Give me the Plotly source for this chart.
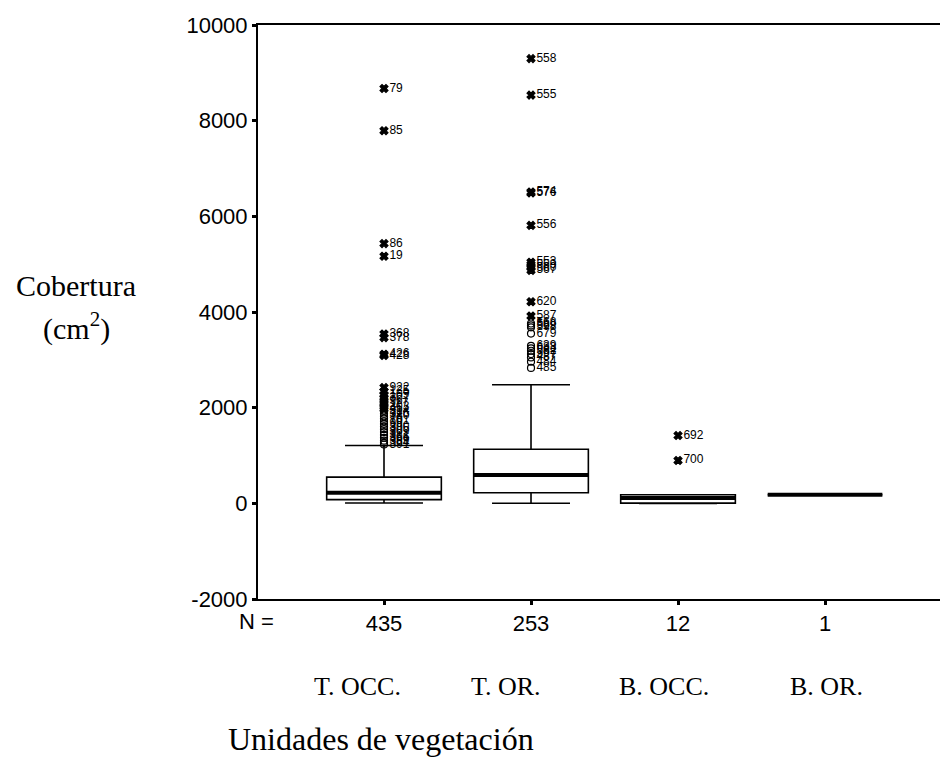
import plotly.graph_objects as go

# ---------------- data ----------------
groups = ["T. OCC.", "T. OR.", "B. OCC.", "B. OR."]
n_counts = ["435", "253", "12", "1"]
positions = [1, 2, 3, 4]

q1 = [77, 222, 5, 181]
median = [222, 590, 110, 181]
q3 = [548, 1132, 181, 181]
lower_whisker = [6, 3, 0, 181]
upper_whisker = [1208, 2479, 181, 181]

# outliers (value, case label) per group
out1_vals = [8672, 7790, 5430, 5166, 3540, 3465, 3118, 3090,
             2420, 2340, 2270, 2200, 2140, 2080, 2020, 1975,
             1930, 1875, 1820, 1770, 1715, 1660, 1605, 1550,
             1490, 1430, 1370, 1310, 1265, 1230]
out1_ids = ["79", "85", "86", "19", "368", "378", "426", "428",
            "922", "125", "109", "307", "96", "117", "303", "45",
            "314", "326", "380", "76", "101", "99", "390", "305",
            "309", "381", "366", "399", "364", "391"]

out2_vals = [9297, 8534, 6510, 6490, 5811, 5040, 4990, 4930, 4870,
             4214, 3916, 3760, 3720, 3680, 3548,
             3290, 3240, 3190, 3120, 3050, 2960, 2830]
out2_ids = ["558", "555", "574", "576", "556", "553", "559", "560", "567",
            "620", "587", "568", "589", "598", "679",
            "639", "683", "582", "597", "487", "484", "485"]

out3_vals = [1417, 896]
out3_ids = ["692", "700"]

out4_vals = []
out4_ids = []

outlier_vals = [out1_vals, out2_vals, out3_vals, out4_vals]
outlier_ids = [out1_ids, out2_ids, out3_ids, out4_ids]

y_tick_vals = [-2000, 0, 2000, 4000, 6000, 8000, 10000]
y_tick_labels = ["-2000", "0", "2000", "4000", "6000", "8000", "10000"]

# ---------------- layout geometry ----------------
W, H = 940, 758
ML, MR, MT, MB = 258, 0, 25, 159
PW, PH = W - ML - MR, H - MT - MB
BOX_W = 0.78


def px(xp):
    return (xp - ML) / PW


def py(yp):
    return (H - MB - yp) / PH


fig = go.Figure()

for i, p in enumerate(positions):
    fig.add_trace(go.Box(
        x=[p], q1=[q1[i]], median=[median[i]], q3=[q3[i]],
        lowerfence=[lower_whisker[i]], upperfence=[upper_whisker[i]],
        width=BOX_W, whiskerwidth=0.68, fillcolor="white",
        line=dict(color="black", width=1.6), boxpoints=False,
        hoverinfo="skip"))

# thick median lines
mx, my = [], []
for i, p in enumerate(positions):
    mx += [p - BOX_W / 2, p + BOX_W / 2, None]
    my += [median[i], median[i], None]
fig.add_trace(go.Scatter(x=mx, y=my, mode="lines",
                         line=dict(color="black", width=4), hoverinfo="skip"))

# outliers: circles for outliers, x for extremes (> Q3 + 3 IQR)
for i, p in enumerate(positions):
    vals = outlier_vals[i]
    if not vals:
        continue
    iqr = q3[i] - q1[i]
    symbols = ["x" if v > q3[i] + 3 * iqr else "circle-open" for v in vals]
    fig.add_trace(go.Scatter(
        x=[p] * len(vals), y=vals, mode="markers+text",
        text=outlier_ids[i], textposition="middle right",
        textfont=dict(family="Liberation Sans", size=12, color="black"),
        marker=dict(symbol=symbols, size=7, color="black",
                    line=dict(color="black", width=1.2)),
        hoverinfo="skip", cliponaxis=False))

fig.update_xaxes(
    range=[0.1429, 4.782], tickvals=positions, ticktext=n_counts,
    showline=True, mirror=True, linecolor="black", linewidth=2,
    ticks="outside", ticklen=4, tickwidth=3, tickcolor="black",
    showgrid=False, zeroline=False,
    tickfont=dict(family="Liberation Sans", size=22, color="black"))
fig.update_yaxes(
    range=[-2000, 10000], tickvals=y_tick_vals, ticktext=y_tick_labels,
    showline=True, linecolor="black", linewidth=2,
    ticks="outside", ticklen=4, tickwidth=3, tickcolor="black",
    showgrid=False, zeroline=False,
    tickfont=dict(family="Liberation Sans", size=22, color="black"))

serif = "Liberation Serif"
annotations = [
    dict(text="Cobertura", x=px(76), y=py(285),
         font=dict(family=serif, size=30)),
    dict(text="(cm<sup>2</sup>)", x=px(76), y=py(326),
         font=dict(family=serif, size=30)),
    dict(text="N =", x=px(256), y=py(621),
         font=dict(family="Liberation Sans", size=22)),
    dict(text="Unidades de vegetación", x=px(381), y=py(739),
         font=dict(family=serif, size=32)),
]
label_px = [357, 506, 664, 826]
for g, xp in zip(groups, label_px):
    annotations.append(dict(text=g, x=px(xp), y=py(686),
                            font=dict(family=serif, size=26)))
for a in annotations:
    a.update(xref="paper", yref="paper", showarrow=False,
             xanchor="center", yanchor="middle")
    a["font"]["color"] = "black"

fig.update_layout(
    width=W, height=H, margin=dict(l=ML, r=MR, t=MT, b=MB, autoexpand=False),
    paper_bgcolor="white", plot_bgcolor="white", showlegend=False,
    annotations=annotations)

fig.write_html("out.html")
